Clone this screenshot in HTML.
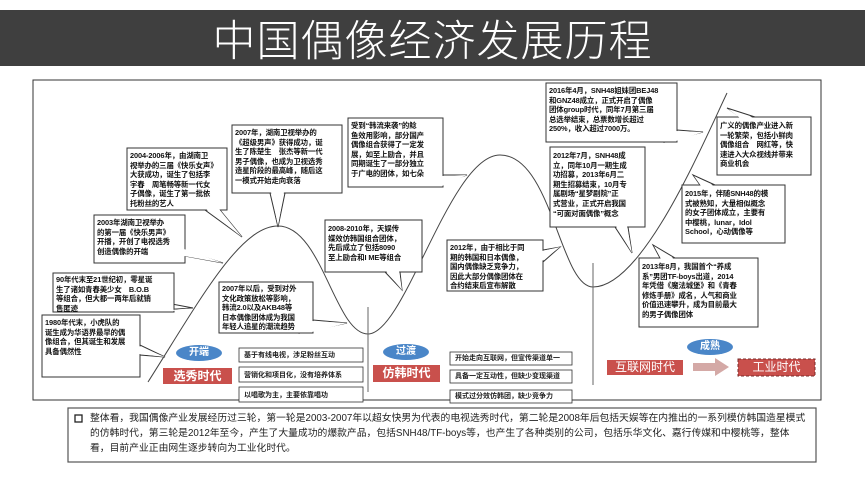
<!DOCTYPE html>
<html><head><meta charset="utf-8"><style>
body{margin:0;width:865px;height:484px;background:#fff;position:relative;overflow:hidden;font-family:"Liberation Sans","Noto Sans CJK SC",sans-serif}
.t{position:absolute;font-size:7.4px;line-height:9.6px;color:#111;font-weight:bold;white-space:nowrap;letter-spacing:-0.1px}
.i{position:absolute;font-size:7px;color:#222;font-weight:bold;white-space:nowrap}
.lab{position:absolute;color:#fff;text-align:center;font-weight:bold}
</style></head><body>
<div style="position:absolute;left:0;top:10px;width:865px;height:56px;background:#3f3f3f;color:#fff;font-size:43px;line-height:56px;text-align:center;font-family:'Noto Sans CJK SC',sans-serif;font-weight:300;letter-spacing:1px">中国偶像经济发展历程</div>
<svg width="865" height="484" style="position:absolute;left:0;top:0">
<rect x="33" y="80" width="788" height="320" fill="none" stroke="#333" stroke-width="1"/>
<path d="M148,382 C200,300 240,226 278,226 C322,226 335,334 368,334 C405,334 450,155 500,155 C552,155 560,287 593,287 C642,287 700,150 727,93" fill="none" stroke="#444" stroke-width="1"/>
<line x1="368" y1="307" x2="368" y2="392" stroke="#666"/>
<line x1="593" y1="263" x2="593" y2="385" stroke="#666"/>
<g fill="#fff" stroke="#333" stroke-width="1">
<polygon points="270,193 285,193 278,227"/>
<polygon points="205,210 220,210 242,237"/>
<polygon points="175,248 185,256 223,263"/>
<polygon points="160,310 172,304 193,308"/>
<polygon points="140,345 140,355 165,357"/>
<polygon points="300,333 313,320 347,323"/>
<polygon points="430,187 443,175 467,175"/>
<polygon points="385,272 400,272 402,290"/>
<polygon points="543,250 543,262 560,247"/>
<polygon points="665,142 677,130 703,132"/>
<polygon points="615,227 628,227 632,253"/>
<polygon points="727,108 740,117 755,117"/>
<polygon points="693,175 700,185 715,185"/>
<polygon points="653,245 660,258 675,258"/>
<rect x="232" y="125" width="110" height="68"/>
<rect x="127" y="148" width="100" height="62"/>
<rect x="94" y="215" width="91" height="48"/>
<rect x="53" y="273" width="121" height="39"/>
<rect x="42" y="315" width="98" height="62"/>
<rect x="219" y="282" width="94" height="51"/>
<rect x="348" y="118" width="95" height="69"/>
<rect x="325" y="220" width="97" height="52"/>
<rect x="447" y="240" width="96" height="51"/>
<rect x="546" y="83" width="131" height="59"/>
<rect x="550" y="147" width="95" height="80"/>
<rect x="717" y="117" width="94" height="58"/>
<rect x="682" y="185" width="103" height="58"/>
<rect x="639" y="258" width="119" height="69"/>
</g>
<g fill="#fff">
<polygon points="271,192 284,192 278,226"/>
<polygon points="206,209 219,209 242,237"/>
<polygon points="184,249 184,256 223,263"/>
<polygon points="161,311 173,311 193,308"/>
<polygon points="139,346 139,354 165,357"/>
<polygon points="312,321 312,332 347,323"/>
<polygon points="442,176 442,186 467,175"/>
<polygon points="386,271 399,271 402,290"/>
<polygon points="542,251 542,261 560,247"/>
<polygon points="676,131 676,141 703,132"/>
<polygon points="616,226 627,226 632,253"/>
<polygon points="728,109 740,118 754,118"/>
<polygon points="694,176 701,186 714,186"/>
<polygon points="654,246 661,259 674,259"/>
</g>
<g fill="#fff" stroke="#333" stroke-width="0.8">
<rect x="239" y="348" width="124" height="14"/>
<rect x="239" y="367" width="124" height="15"/>
<rect x="239" y="387" width="124" height="15"/>
<rect x="450" y="352" width="122" height="13"/>
<rect x="450" y="370" width="122" height="13"/>
<rect x="450" y="390" width="122" height="13"/>
</g>
<ellipse cx="199" cy="353" rx="23" ry="8" fill="#4a86c8"/>
<ellipse cx="406" cy="352" rx="23" ry="8" fill="#4a86c8"/>
<ellipse cx="710" cy="347" rx="23" ry="8" fill="#4a86c8"/>
<rect x="163" y="368" width="69" height="16" fill="#c9504c"/>
<rect x="373" y="365" width="67" height="17" fill="#c9504c"/>
<rect x="607" y="360" width="76" height="15" fill="#c9504c"/>
<rect x="738" y="359" width="77" height="17" fill="#c9504c" stroke="#7a2a28" stroke-dasharray="3,2"/>
<polygon points="693,363 715,363 715,358 729,367 715,376 715,371 693,371" fill="#d4a9a6"/>
<rect x="68" y="408" width="748" height="54" fill="#fff" stroke="#555" stroke-width="1.2"/>
<rect x="75" y="415" width="7" height="7" fill="none" stroke="#222" stroke-width="1.3"/>
</svg>
<div class="t" style="left:235px;top:128px">2007年，湖南卫视举办的<br>《超级男声》获得成功，诞<br>生了陈楚生　张杰等新一代<br>男子偶像，也成为卫视选秀<br>造星阶段的最高峰，随后这<br>一模式开始走向衰落</div>
<div class="t" style="left:130px;top:151px">2004-2006年，由湖南卫<br>视举办的三届《快乐女声》<br>大获成功，诞生了包括李<br>宇春　周笔畅等新一代女<br>子偶像，诞生了第一批依<br>托粉丝的艺人</div>
<div class="t" style="left:97px;top:218px">2003年湖南卫视举办<br>的第一届《快乐男声》<br>开播，开创了电视选秀<br>创造偶像的开端</div>
<div class="t" style="left:56px;top:275px">90年代末至21世纪初，零星诞<br>生了诸如青春美少女　B.O.B<br>等组合，但大都一两年后就销<br>售匿迹</div>
<div class="t" style="left:45px;top:318px">1980年代末，小虎队的<br>诞生成为华语界最早的偶<br>像组合，但其诞生和发展<br>具备偶然性</div>
<div class="t" style="left:222px;top:284px">2007年以后，受到对外<br>文化政策放松等影响，<br>韩流2.0以及AKB48等<br>日本偶像团体成为我国<br>年轻人追星的潮流趋势</div>
<div class="t" style="left:351px;top:121px">受到“韩流来袭”的鲶<br>鱼效用影响，部分国产<br>偶像组合获得了一定发<br>展，如至上励合，并且<br>同期诞生了一部分独立<br>于广电的团体，如七朵</div>
<div class="t" style="left:328px;top:224px">2008-2010年，天娱传<br>媒效仿韩国组合团体，<br>先后成立了包括8090<br>至上励合和I ME等组合</div>
<div class="t" style="left:450px;top:243px">2012年，由于相比于同<br>期的韩国和日本偶像，<br>国内偶像缺乏竞争力，<br>因此大部分偶像团体在<br>合约结束后宣布解散</div>
<div class="t" style="left:549px;top:86px">2016年4月，SNH48姐妹团BEJ48<br>和GNZ48成立，正式开启了偶像<br>团体group时代，同年7月第三届<br>总选举结束，总票数增长超过<br>250%，收入超过7000万。</div>
<div class="t" style="left:553px;top:151px">2012年7月，SNH48成<br>立，同年10月一期生成<br>功招募，2013年6月二<br>期生招募结束，10月专<br>属剧场“星梦剧院”正<br>式营业，正式开启我国<br>“可面对面偶像”概念</div>
<div class="t" style="left:720px;top:121px">广义的偶像产业进入新<br>一轮繁荣，包括小鲜肉<br>偶像组合　网红等，快<br>速进入大众视线并带来<br>商业机会</div>
<div class="t" style="left:685px;top:189px">2015年，伴随SNH48的模<br>式被熟知，大量相似概念<br>的女子团体成立，主要有<br>中樱桃，lunar，Idol<br>School，心动偶像等</div>
<div class="t" style="left:642px;top:262px">2013年8月，我国首个“养成<br>系”男团TF-boys出道，2014<br>年凭借《魔法城堡》和《青春<br>修炼手册》成名，人气和商业<br>价值迅速攀升，成为目前最大<br>的男子偶像团体</div>
<div class="i" style="left:244px;top:350px">基于有线电视，涉足粉丝互动</div>
<div class="i" style="left:244px;top:370px">营销化和项目化，没有培养体系</div>
<div class="i" style="left:244px;top:390px">以唱歌为主，主要依靠唱功</div>
<div class="i" style="left:455px;top:353px">开始走向互联网，但宣传渠道单一</div>
<div class="i" style="left:455px;top:371px">具备一定互动性，但缺少变现渠道</div>
<div class="i" style="left:455px;top:391px">模式过分效仿韩团，缺少竞争力</div>
<div class="lab" style="left:176px;top:346px;width:46px;font-size:10px;line-height:14px">开端</div>
<div class="lab" style="left:383px;top:345px;width:46px;font-size:10px;line-height:14px">过渡</div>
<div class="lab" style="left:687px;top:340px;width:46px;font-size:10px;line-height:14px">成熟</div>
<div class="lab" style="left:163px;top:368px;width:69px;font-size:12px;line-height:16px">选秀时代</div>
<div class="lab" style="left:373px;top:365px;width:67px;font-size:12px;line-height:17px">仿韩时代</div>
<div class="lab" style="left:607px;top:360px;width:76px;font-size:12px;line-height:15px;font-weight:normal">互联网时代</div>
<div class="lab" style="left:738px;top:359px;width:77px;font-size:12px;line-height:17px;font-weight:normal">工业时代</div>
<div style="position:absolute;left:90px;top:411px;width:718px;font-size:9.8px;line-height:15px;color:#222">整体看，我国偶像产业发展经历过三轮，第一轮是2003-2007年以超女快男为代表的电视选秀时代，第二轮是2008年后包括天娱等在内推出的一系列模仿韩国造星模式的仿韩时代，第三轮是2012年至今，产生了大量成功的爆款产品，包括SNH48/TF-boys等，也产生了各种类别的公司，包括乐华文化、嘉行传媒和中樱桃等，整体看，目前产业正由网生逐步转向为工业化时代。</div>
</body></html>
